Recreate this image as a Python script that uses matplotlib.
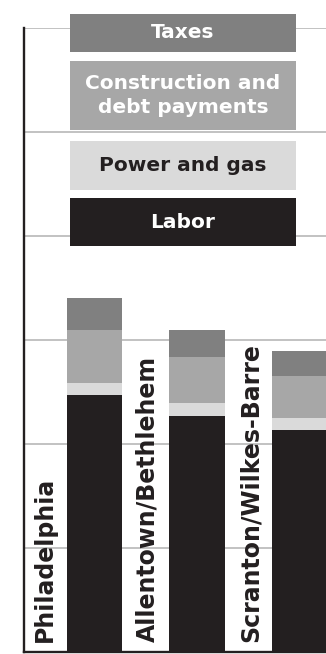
import matplotlib
matplotlib.use("Agg")
import matplotlib.pyplot as plt
from matplotlib.patches import Rectangle

# Cost components per city (stacked bottom to top)
cities = ["Philadelphia", "Allentown/Bethlehem", "Scranton/Wilkes-Barre"]
labor = [24.7, 22.7, 21.3]
power_gas = [1.1, 1.2, 1.2]
construction_debt = [5.1, 4.4, 4.0]
taxes = [3.1, 2.6, 2.4]

series_labels = ["Labor", "Power and gas", "Construction and\ndebt payments", "Taxes"]
series_colors = ["#231f20", "#dadada", "#a7a7a7", "#808080"]
label_text_colors = ["white", "#231f20", "white", "white"]

W, H = 326, 654
fig = plt.figure(figsize=(W / 100, H / 100), dpi=100)
fig.patch.set_facecolor("white")

ax_left, ax_top, ax_bottom = 24, 28, 651.5
ax = fig.add_axes([ax_left / W, (H - ax_bottom) / H, (W - ax_left) / W,
                   (ax_bottom - ax_top) / H])

x = list(range(len(cities)))
bar_w = 0.54
series = [labor, power_gas, construction_debt, taxes]
bottom = [0.0] * len(cities)
for vals, col in zip(series, series_colors):
    ax.bar(x, vals, width=bar_w, bottom=bottom, color=col, linewidth=0, zorder=3)
    bottom = [b + v for b, v in zip(bottom, vals)]

ax.set_ylim(0, 60)
ax.set_xlim(-0.688, 2.259)
ax.set_yticks([10, 20, 30, 40, 50, 60])
ax.yaxis.grid(True, color="#bdbdbd", linewidth=1.3, zorder=0)
ax.tick_params(left=False, bottom=False, labelleft=False, labelbottom=False)
ax.set_xticks([])
for side in ("top", "right"):
    ax.spines[side].set_visible(False)
for side in ("left", "bottom"):
    ax.spines[side].set_color("#231f20")
    ax.spines[side].set_linewidth(1.7)
    ax.spines[side].set_zorder(4)

# City names written vertically beside each bar
for i, name in enumerate(cities):
    ax.text(i - 0.48, 0.9, name, rotation=90, ha="center", va="bottom",
            fontsize=17, fontweight="bold", color="#231f20",
            family="DejaVu Sans", zorder=5)

# Key: shaded boxes stacked above the bars
boxes = [  # (top, bottom) in pixels for each series, Labor first
    (198, 246), (141, 190), (61, 130), (14, 52)
]
box_x0, box_x1 = 70, 296
for (top, bot), lab, col, tcol in zip(boxes, series_labels, series_colors,
                                      label_text_colors):
    rect = Rectangle((box_x0 / W, 1 - bot / H), (box_x1 - box_x0) / W,
                     (bot - top) / H, transform=fig.transFigure,
                     facecolor=col, edgecolor="none", zorder=10)
    fig.patches.append(rect)
    fig.text((box_x0 + box_x1) / 2 / W, 1 - (top + bot) / 2 / H, lab,
             ha="center", va="center", fontsize=14.5, fontweight="bold",
             color=tcol, linespacing=1.3, family="DejaVu Sans", zorder=11)

fig.savefig("out.png", dpi=100, facecolor="white")
